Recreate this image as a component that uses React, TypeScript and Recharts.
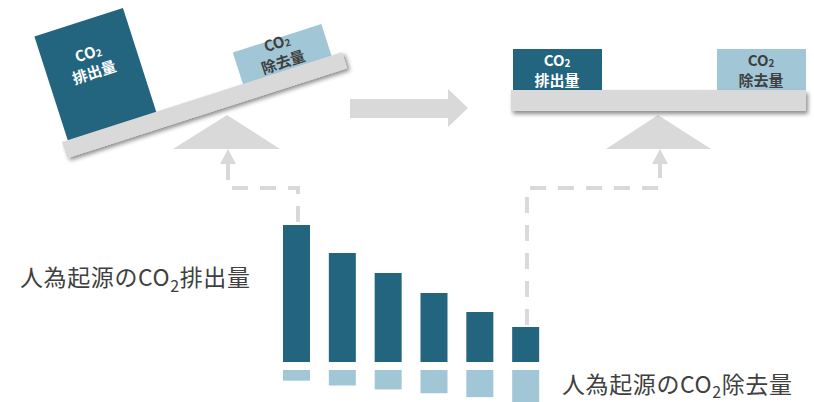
import React from "react";
import { BarChart, Bar, XAxis, YAxis } from "recharts";

// Stylised stages (six steps of decreasing emissions / increasing removals)
const stages = ["1", "2", "3", "4", "5", "6"];
const emissions = [137, 109, 89, 69, 50, 35];
const removals = [11, 16, 20, 24, 28, 33];

const emissionLabel = { pre: "人為起源のCO", sub: "2", post: "排出量" };
const removalLabel = { pre: "人為起源のCO", sub: "2", post: "除去量" };

const DARK = "#23647E";
const LIGHT = "#A1C7D6";
const GRAY = "#D9D9D9";
const TEXT = "#404040";
const FONT = "'Noto Sans CJK JP', 'Noto Sans', sans-serif";

const emData = stages.map((s, i) => ({ stage: s, v: emissions[i] }));
const rmData = stages.map((s, i) => ({ stage: s, v: removals[i] }));

function BoxText({ x, y, color, word }: { x: number; y: number; color: string; word: string }) {
  return (
    <g fontFamily={FONT} fontWeight={700} fill={color} textAnchor="middle">
      <text x={x} y={y} fontSize={15}>
        CO<tspan fontSize={10} dy={1}>2</tspan>
      </text>
      <text x={x} y={y + 20} fontSize={15}>{word}</text>
    </g>
  );
}

function Overlay() {
  return (
    <svg width={814} height={402} style={{ position: "absolute", left: 0, top: 0 }}>
      <defs>
        <filter id="sh" x="-10%" y="-50%" width="130%" height="250%">
          <feDropShadow dx={2} dy={3} stdDeviation={2} floodColor="#000" floodOpacity={0.45} />
        </filter>
      </defs>
      {/* left seesaw */}
      <polygon points="227,115 280,149 173,149" fill={GRAY} />
      <g transform="translate(62,142) rotate(-17.8)">
        <rect x={6} y={-109} width={93} height={111} fill={DARK} />
        <rect x={190} y={-33} width={93} height={35} fill={LIGHT} />
        <BoxText x={52} y={-71} color="#fff" word="排出量" />
        <BoxText x={235} y={-23} color={TEXT} word="除去量" />
        <rect x={0} y={0} width={294} height={17} fill={GRAY} filter="url(#sh)" />
      </g>
      {/* middle arrow */}
      <polygon points="350,99 448,99 448,89 468,108 448,127 448,118 350,118" fill={GRAY} />
      {/* right seesaw */}
      <polygon points="658,115 711,149 606,149" fill={GRAY} />
      <rect x={513} y={49} width={89} height={42} fill={DARK} />
      <rect x={717} y={49} width={89} height={42} fill={LIGHT} />
      <BoxText x={557} y={66} color="#fff" word="排出量" />
      <BoxText x={761} y={66} color={TEXT} word="除去量" />
      <rect x={511} y={90} width={295} height={21} fill={GRAY} filter="url(#sh)" />
      {/* connectors */}
      <polygon points="228,149 236,164 220,164" fill={GRAY} />
      <polygon points="660,149 668,164 652,164" fill={GRAY} />
      <polyline points="298,222 298,188 228,188 228,164" fill="none" stroke={GRAY} strokeWidth={4} strokeDasharray="16 12" />
      <polyline points="527,325 527,188 660,188 660,164" fill="none" stroke={GRAY} strokeWidth={4} strokeDasharray="16 12" />
      {/* labels */}
      <text x={20} y={286} fontSize={23} letterSpacing={0.6} fontFamily={FONT} fill={TEXT}>
        {emissionLabel.pre}
        <tspan fontSize={16} dy={6}>{emissionLabel.sub}</tspan>
        <tspan dy={-6}>{emissionLabel.post}</tspan>
      </text>
      <text x={562} y={393} fontSize={23} letterSpacing={0.6} fontFamily={FONT} fill={TEXT}>
        {removalLabel.pre}
        <tspan fontSize={16} dy={5}>{removalLabel.sub}</tspan>
        <tspan dy={-5}>{removalLabel.post}</tspan>
      </text>
    </svg>
  );
}

export default function App() {
  return (
    <div style={{ position: "absolute", left: 0, top: 0, width: 814, height: 402, background: "#fff", overflow: "hidden" }}>
      <Overlay />
      <div style={{ position: "absolute", left: 274, top: 222 }}>
        <BarChart width={275} height={140} data={emData} margin={{ top: 0, right: 0, bottom: 0, left: 0 }}>
          <XAxis dataKey="stage" hide />
          <YAxis hide domain={[0, 140]} />
          <Bar dataKey="v" fill={DARK} barSize={27} isAnimationActive={false} />
        </BarChart>
      </div>
      <div style={{ position: "absolute", left: 274, top: 370 }}>
        <BarChart width={275} height={32} data={rmData} margin={{ top: 0, right: 0, bottom: 0, left: 0 }}>
          <XAxis dataKey="stage" hide />
          <YAxis hide domain={[0, 32]} reversed />
          <Bar dataKey="v" fill={LIGHT} barSize={27} isAnimationActive={false} />
        </BarChart>
      </div>
    </div>
  );
}
